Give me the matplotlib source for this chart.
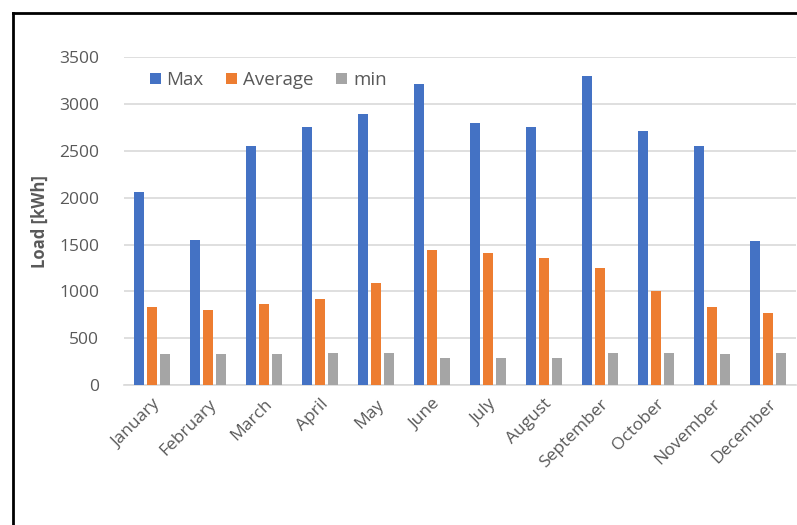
import matplotlib
matplotlib.use('Agg')
import matplotlib.pyplot as plt
import numpy as np
from matplotlib.lines import Line2D

plt.rcParams['font.family'] = ['Open Sans', 'DejaVu Sans']

months = ['January', 'February', 'March', 'April', 'May', 'June', 'July',
          'August', 'September', 'October', 'November', 'December']
max_load = [2060, 1550, 2550, 2760, 2900, 3220, 2805, 2760, 3305, 2710, 2550, 1535]
avg_load = [830, 805, 862, 920, 1095, 1440, 1410, 1355, 1245, 1000, 830, 765]
min_load = [328, 328, 328, 340, 340, 290, 290, 290, 340, 340, 328, 340]

fig = plt.figure(figsize=(7.97, 5.25), dpi=100)
ax = fig.add_axes([0.1556, 0.2667, 0.843, 0.6238])

x = np.arange(len(months))
w = 0.178
step = 0.226
ax.bar(x - step, max_load, w, color='#4472C4', label='Max', zorder=3)
ax.bar(x, avg_load, w, color='#ED7D31', label='Average', zorder=3)
ax.bar(x + step, min_load, w, color='#A5A5A5', label='min', zorder=3)

ax.set_xlim(-0.5, 11.5)
ax.set_ylim(0, 3500)
ax.set_yticks(range(0, 3501, 500))
ax.yaxis.grid(True, color='#d9d9d9', linewidth=1.2, zorder=0)
ax.set_axisbelow(True)
for s in ['top', 'right', 'left']:
    ax.spines[s].set_visible(False)
ax.spines['bottom'].set_color('#d9d9d9')
ax.spines['bottom'].set_linewidth(1.2)
ax.tick_params(length=0, labelsize=12.5, labelcolor='#595959')
ax.tick_params(axis='y', pad=18)
ax.set_xticks(x)
ax.set_xticklabels(months, rotation=45, ha='right', va='top', rotation_mode='anchor')
ax.tick_params(axis='x', pad=8)

fig.text(0.05, 0.578, 'Load [kWh]', rotation=90, ha='center', va='center',
         fontsize=12, fontweight='bold', color='#595959')

leg = ax.legend(loc='upper left', bbox_to_anchor=(0.013, 1.01), ncol=3, frameon=False,
                fontsize=13.5, handlelength=0.6, handleheight=0.6, handletextpad=0.3,
                columnspacing=1.2, labelcolor='#595959')

# frame around the picture (only top and left visible)
fig.add_artist(Line2D([13/797, 1.0], [1 - 13/525, 1 - 13/525], color='black', linewidth=2))
fig.add_artist(Line2D([13/797, 13/797], [0, 1 - 13/525], color='black', linewidth=2))

fig.savefig('out.png', dpi=100)
